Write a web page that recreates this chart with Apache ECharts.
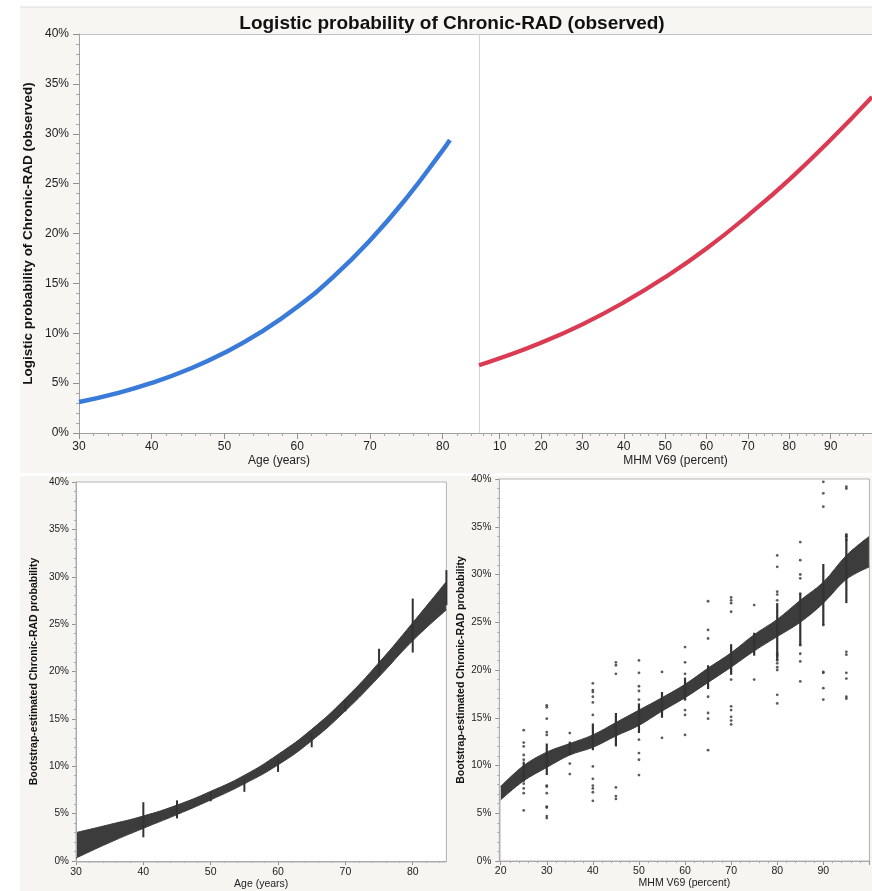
<!DOCTYPE html>
<html><head><meta charset="utf-8">
<script src="https://cdn.jsdelivr.net/npm/echarts@6/dist/echarts.min.js"></script>
<style>html,body{margin:0;padding:0;background:#fff}#c{width:872px;height:891px}</style>
</head><body><div id="c"></div>
<script>
// ---------- data (percent) ----------
const titleText = 'Logistic probability of Chronic-RAD (observed)';
const topYName = 'Logistic probability of Chronic-RAD (observed)';
const botYName = 'Bootstrap-estimated Chronic-RAD probability';
const ageName = 'Age (years)';
const mhmName = 'MHM V69 (percent)';

const ageX    = [30, 35, 40, 45, 50, 55, 60, 65, 70, 75, 80, 81];
const ageProb = [3.1, 3.95, 5.02, 6.37, 8.04, 10.11, 12.63, 15.68, 19.30, 23.52, 28.34, 29.38];

const mhmX    = [5, 10, 20, 30, 40, 50, 60, 70, 80, 90, 100];
const mhmProb = [6.8, 7.49, 9.05, 10.9, 13.09, 15.62, 18.5, 21.8, 25.4, 29.4, 33.7];

const bsAgeX     = [30, 35, 40, 45, 50, 55, 60, 65, 70, 75, 80, 85];
const bsAgeUpper = [3.0, 3.85, 4.75, 5.9, 7.35, 9.05, 11.25, 13.9, 17.15, 20.95, 25.15, 29.5];
const bsAgeLower = [0.3, 1.95, 3.45, 4.9, 6.45, 8.15, 10.15, 12.7, 15.85, 19.45, 23.25, 26.5];
const bsAgeBars  = [[40,2.5,6.2],[45,4.5,6.4],[50,6.3,7.3],[55,7.3,8.6],[60,9.4,10.8],[65,12.0,13.5],
                    [70,15.8,17.0],[75,19.6,22.4],[80,22.0,27.7],[85,27.0,30.7]];

const bsMhmX     = [20, 25, 30, 35, 40, 45, 50, 55, 60, 65, 70, 75, 80, 85, 90, 95, 100];
const bsMhmUpper = [7.8, 10.0, 11.4, 12.3, 13.2, 14.5, 15.8, 17.1, 18.5, 20.2, 21.8, 23.7, 25.3, 27.3, 29.2, 32.0, 34.0];
const bsMhmLower = [6.4, 8.4, 9.8, 11.1, 11.9, 13.1, 14.2, 15.7, 17.1, 18.7, 20.3, 22.0, 23.5, 25.0, 27.0, 29.5, 30.8];
const bsMhmBars  = [[25,8.3,10.4],[30,9.0,12.3],[35,11.1,12.5],[40,11.6,14.4],[45,12.0,15.5],[50,13.4,16.5],
                    [55,15.0,17.7],[60,16.9,19.2],[65,18.0,20.5],[70,19.5,22.7],[75,21.5,23.9],[80,21.0,27.0],
                    [85,22.6,28.0],[90,24.7,31.1],[95,27.0,34.2]];
const bsMhmDots = [
  [25,13.7],[25,12.4],[25,12.0],[25,11.1],[25,10.6],[25,8.1],[25,7.6],[25,7.1],[25,5.3],
  [30,16.3],[30,16.1],[30,14.9],[30,13.5],[30,13.2],[30,7.9],[30,7.8],[30,7.1],[30,5.7],[30,5.6],[30,4.7],[30,4.5],
  [35,13.4],[35,10.2],[35,9.1],
  [40,18.6],[40,17.9],[40,17.7],[40,17.2],[40,16.6],[40,15.3],[40,9.9],[40,8.6],[40,7.9],[40,7.6],[40,7.2],[40,6.3],
  [45,20.8],[45,20.5],[45,19.6],[45,7.7],[45,6.8],[45,6.5],
  [50,21.0],[50,19.7],[50,18.3],[50,17.8],[50,16.9],[50,12.7],[50,11.3],[50,10.6],[50,9.0],
  [55,19.8],[55,12.9],
  [60,22.4],[60,20.8],[60,19.6],[60,16.9],[60,15.8],[60,15.3],[60,13.2],
  [65,27.2],[65,24.2],[65,23.3],[65,17.2],[65,15.5],[65,14.9],[65,11.6],
  [70,27.6],[70,27.3],[70,27.0],[70,26.1],[70,19.0],[70,16.2],[70,15.8],[70,15.1],[70,14.7],[70,14.3],
  [75,26.8],[75,19.0],
  [80,32.0],[80,30.8],[80,28.2],[80,27.9],[80,27.3],[80,21.7],[80,21.5],[80,21.0],[80,20.7],[80,20.3],[80,20.0],[80,17.4],[80,16.5],
  [85,33.4],[85,31.5],[85,30.0],[85,29.6],[85,28.0],[85,22.6],[85,21.7],[85,20.9],[85,18.8],
  [90,39.7],[90,38.5],[90,37.1],[90,24.7],[90,19.8],[90,19.7],[90,18.1],[90,16.9],
  [95,39.2],[95,39.0],[95,34.2],[95,34.0],[95,33.6],[95,21.9],[95,21.6],[95,19.7],[95,19.1],[95,17.2],[95,17.0]
];

const topAgeTicks = [30, 40, 50, 60, 70, 80];
const topMhmTicks = [10, 20, 30, 40, 50, 60, 70, 80, 90];
const botAgeTicks = [30, 40, 50, 60, 70, 80];
const botMhmTicks = [20, 30, 40, 50, 60, 70, 80, 90];

// ---------- helpers ----------
const FONT = "'Liberation Sans', Arial, Helvetica, sans-serif";
const BAND = '#3c3c3c';
const zip = (a, b) => a.map((v, i) => [v, b[i]]);
function minorList(min, max, step, majorStep) {
  const out = [];
  const start = Math.ceil(min / step) * step;
  for (let v = start; v <= max + 1e-9; v += step) {
    const r = Math.round(v * 1000) / 1000;
    if (Math.abs(r / majorStep - Math.round(r / majorStep)) > 1e-6) out.push(r);
  }
  return out;
}
function xPair(gi, min, max, labels, o) {
  const majors = labels.slice();
  if (o.extraMajor) o.extraMajor.forEach(v => majors.push(v));
  const major = {
    type: 'value', gridIndex: gi, min, max, position: 'bottom',
    axisLine: { show: true, lineStyle: { color: '#a0a0a0', width: 1 } },
    axisTick: { show: true, customValues: majors, length: o.tick, lineStyle: { color: '#909090' } },
    axisLabel: { customValues: labels, fontSize: o.fs, color: '#222', margin: o.margin, fontFamily: FONT },
    splitLine: { show: false },
    name: o.name, nameLocation: 'middle', nameGap: o.nameGap,
    nameTextStyle: { fontSize: o.fs, color: '#222', fontFamily: FONT }
  };
  const minor = {
    type: 'value', gridIndex: gi, min, max, position: 'bottom', offset: 0,
    axisLine: { show: false },
    axisTick: { show: true, customValues: minorList(min, max, 2, 10), length: o.minorTick, lineStyle: { color: '#a8a8a8' } },
    axisLabel: { show: false }, splitLine: { show: false }
  };
  return [major, minor];
}
function yAxis(gi, o) {
  return {
    type: 'value', gridIndex: gi, min: 0, max: 40, interval: 5, show: o.show !== false,
    axisLine: { show: true, lineStyle: { color: o.lineColor || '#a0a0a0', width: 1 } },
    axisTick: { show: o.ticks !== false, length: o.tick, lineStyle: { color: '#909090' } },
    minorTick: { show: o.ticks !== false, splitNumber: 5, length: o.minorTick, lineStyle: { color: '#a8a8a8' } },
    axisLabel: { show: o.labels !== false, formatter: '{value}%', fontSize: o.fs, color: '#222', margin: o.margin, fontFamily: FONT },
    splitLine: { show: false },
    name: o.name, nameLocation: 'middle', nameGap: o.nameGap,
    nameTextStyle: { fontSize: o.nameFs, fontWeight: 'bold', color: '#111', fontFamily: FONT }
  };
}
function barSeries(xi, yi, data, w) {
  return {
    type: 'custom', coordinateSystem: 'cartesian2d', xAxisIndex: xi, yAxisIndex: yi,
    data, encode: { x: 0, y: [1, 2] }, z: 4, silent: true,
    renderItem(params, api) {
      const p1 = api.coord([api.value(0), api.value(1)]);
      const p2 = api.coord([api.value(0), api.value(2)]);
      return { type: 'line', shape: { x1: p1[0], y1: p1[1], x2: p2[0], y2: p2[1] },
               style: { stroke: '#333', lineWidth: w } };
    }
  };
}
// band = dark area under the upper edge, then white area under the lower edge painted over it
function band(xi, yi, xs, lo, hi, smooth) {
  return [
    { type: 'line', xAxisIndex: xi, yAxisIndex: yi, data: zip(xs, hi), smooth, symbol: 'none',
      lineStyle: { color: BAND, width: 1 }, areaStyle: { color: BAND, opacity: 1 }, z: -3, silent: true },
    { type: 'line', xAxisIndex: xi, yAxisIndex: yi, data: zip(xs, lo), smooth, symbol: 'none',
      lineStyle: { width: 0, opacity: 0 }, areaStyle: { color: '#ffffff', opacity: 1 }, z: -2, silent: true },
    { type: 'line', xAxisIndex: xi, yAxisIndex: yi, data: zip(xs, lo), smooth, symbol: 'none',
      lineStyle: { color: BAND, width: 1 }, z: 3, silent: true }
  ];
}

const xAxes = [
  ...xPair(0, 30, 85, topAgeTicks, { fs: 12, tick: 6, minorTick: 3, margin: 8, name: ageName, nameGap: 22 }),
  ...xPair(1, 5, 100, topMhmTicks, { fs: 12, tick: 6, minorTick: 3, margin: 8, name: mhmName, nameGap: 22, extraMajor: [100] }),
  ...xPair(2, 30, 85, botAgeTicks, { fs: 10.5, tick: 4, minorTick: 2, margin: 6, name: ageName, nameGap: 18 }),
  ...xPair(3, 19.7, 100, botMhmTicks, { fs: 10.5, tick: 4, minorTick: 2, margin: 5, name: mhmName, nameGap: 17, extraMajor: [100] })
];
const yAxes = [
  yAxis(0, { fs: 12, tick: 6, minorTick: 3, margin: 10, name: topYName, nameGap: 44, nameFs: 13.5 }),
  yAxis(1, { labels: false, ticks: false, lineColor: '#d4d4d4' }),
  yAxis(2, { fs: 10, tick: 4, minorTick: 2, margin: 7, name: botYName, nameGap: 36, nameFs: 10.5 }),
  yAxis(3, { fs: 10, tick: 4, minorTick: 2, margin: 8, name: botYName, nameGap: 33, nameFs: 10.5 })
];

const chart = echarts.init(document.getElementById('c'), null, { renderer: 'canvas' });
chart.setOption({
  animation: false,
  backgroundColor: '#ffffff',
  title: { text: titleText, left: 447, top: 9, textAlign: 'center',
           textStyle: { fontSize: 19, fontWeight: 'bold', color: '#111', fontFamily: FONT } },
  graphic: [
    { type: 'rect', z: -10, shape: { x: 20, y: 7, width: 852, height: 466 }, style: { fill: '#f7f6f2' } },
    { type: 'line', z: -9, shape: { x1: 20, y1: 7, x2: 872, y2: 7 }, style: { stroke: '#dcdcdc', lineWidth: 1 } },
    { type: 'rect', z: -9, shape: { x: 79, y: 34, width: 793, height: 399 }, style: { fill: '#ffffff' } },
    { type: 'line', z: -8, shape: { x1: 79, y1: 34.5, x2: 872, y2: 34.5 }, style: { stroke: '#c4c4c4', lineWidth: 1 } },
    { type: 'rect', z: -10, shape: { x: 20, y: 476, width: 852, height: 415 }, style: { fill: '#f6f5f1' } },
    { type: 'rect', z: -9, shape: { x: 76, y: 482, width: 370.4, height: 380 }, style: { fill: '#ffffff' } },
    { type: 'rect', z: 1, shape: { x: 76, y: 482, width: 370.4, height: 380 }, style: { fill: 'none', stroke: '#b4b4b4', lineWidth: 1 } },
    { type: 'rect', z: -9, shape: { x: 499.3, y: 479, width: 370.1, height: 382 }, style: { fill: '#ffffff' } },
    { type: 'rect', z: 1, shape: { x: 499.3, y: 479, width: 370.1, height: 382 }, style: { fill: 'none', stroke: '#b4b4b4', lineWidth: 1 } }
  ],
  grid: [
    { left: 79, top: 34, width: 400, height: 399 },
    { left: 479, top: 34, width: 400.2, height: 399 },
    { left: 76, top: 482, width: 370.4, height: 380 },
    { left: 499.3, top: 479, width: 370.1, height: 382 }
  ],
  xAxis: xAxes,
  yAxis: yAxes,
  series: [
    { type: 'line', xAxisIndex: 0, yAxisIndex: 0, data: zip(ageX, ageProb), smooth: true, symbol: 'none',
      lineStyle: { color: '#3a7bd9', width: 4.5 }, z: 3 },
    { type: 'line', xAxisIndex: 2, yAxisIndex: 1, data: zip(mhmX, mhmProb), smooth: true, symbol: 'none',
      lineStyle: { color: '#da3a52', width: 4.2 }, z: 3 },
    ...band(4, 2, bsAgeX, bsAgeLower, bsAgeUpper, true),
    barSeries(4, 2, bsAgeBars, 2),
    ...band(6, 3, bsMhmX, bsMhmLower, bsMhmUpper, 0.35),
    barSeries(6, 3, bsMhmBars, 2.2),
    { type: 'scatter', xAxisIndex: 6, yAxisIndex: 3, data: bsMhmDots, symbol: 'circle', symbolSize: 2.8,
      itemStyle: { color: '#333' }, z: 5, silent: true }
  ]
});
</script></body></html>
